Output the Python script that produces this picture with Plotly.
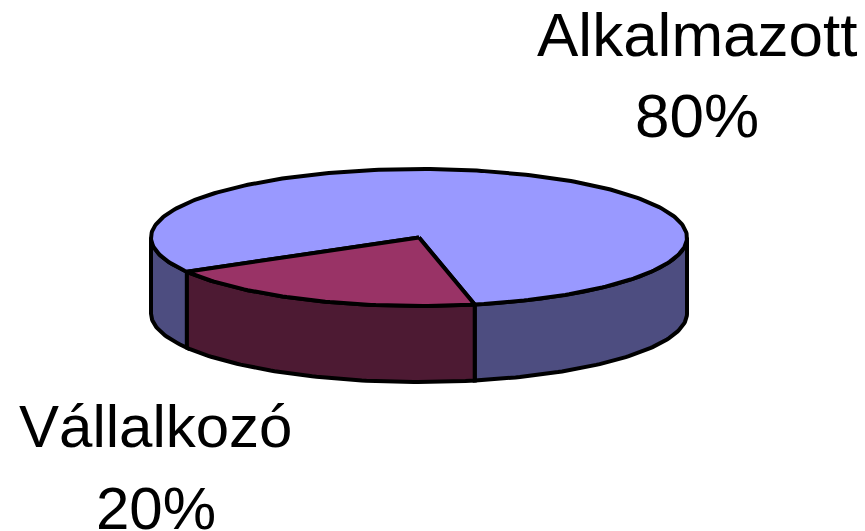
import numpy as np
import plotly.graph_objects as go

# ---- data ----
labels = ["Alkalmazott", "Vállalkozó"]
values = [80, 20]
pct_labels = ["80%", "20%"]

# ---- styling / geometry ----
top_colors = ["#9999FF", "#993366"]
side_colors = ["#4D4D80", "#4D1A33"]
W, H = 865, 531
cx, cy = 419.0, 237.5
rx, ry = 268.0, 68.5
depth = 76.0
start_deg = 150.0 - 360.0  # screen angle (clockwise, y down) where first slice starts

total = float(sum(values))
bounds = [start_deg]
for v in values:
    bounds.append(bounds[-1] + 360.0 * v / total)


def arc(t1, t2, dy=0.0, n=None):
    if n is None:
        n = max(8, int(abs(t2 - t1)))
    t = np.radians(np.linspace(t1, t2, n))
    return cx + rx * np.cos(t), cy + ry * np.sin(t) + dy


fig = go.Figure()

# side walls (visible front part: screen angle 0..180)
for i in range(len(values)):
    a0, a1 = bounds[i], bounds[i + 1]
    for k in (-360, 0, 360):
        s = max(a0 + k, 0.0)
        e = min(a1 + k, 180.0)
        if e - s > 0.01:
            xt, yt = arc(s, e)
            xb, yb = arc(e, s, depth)
            xs = np.concatenate([xt, xb, xt[:1]])
            ys = np.concatenate([yt, yb, yt[:1]])
            fig.add_trace(go.Scatter(x=xs, y=ys, mode="lines", fill="toself",
                                     fillcolor=side_colors[i],
                                     line=dict(color="black", width=4),
                                     hoverinfo="skip", showlegend=False))

# top faces
for i in range(len(values)):
    a0, a1 = bounds[i], bounds[i + 1]
    xa, ya = arc(a0, a1)
    xs = np.concatenate([[cx], xa, [cx]])
    ys = np.concatenate([[cy], ya, [cy]])
    fig.add_trace(go.Scatter(x=xs, y=ys, mode="lines", fill="toself",
                             fillcolor=top_colors[i],
                             line=dict(color="black", width=4),
                             hoverinfo="skip", showlegend=False))

# labels
label_pos = [(697, 34, 115), (156, 426, 508)]
label_size = [62, 60]
for i in range(len(labels)):
    x, y1, y2 = label_pos[i]
    font = dict(family="Liberation Sans, Arial, sans-serif", size=label_size[i], color="black")
    fig.add_annotation(x=x, y=y1, text=labels[i], showarrow=False,
                       xanchor="center", yanchor="middle", font=font)
    fig.add_annotation(x=x, y=y2, text=pct_labels[i], showarrow=False,
                       xanchor="center", yanchor="middle", font=font)

fig.update_layout(
    width=W, height=H,
    margin=dict(l=0, r=0, t=0, b=0),
    paper_bgcolor="white", plot_bgcolor="white",
    xaxis=dict(range=[0, W], visible=False, fixedrange=True),
    yaxis=dict(range=[H, 0], visible=False, fixedrange=True),
    showlegend=False,
)

fig.write_html("out.html", config={"displayModeBar": False},
               post_script="document.body.style.margin='0';document.body.style.overflow='hidden';")
